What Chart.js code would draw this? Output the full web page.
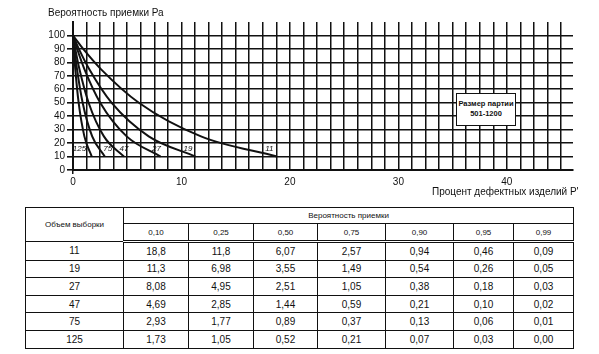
<!DOCTYPE html>
<html>
<head>
<meta charset="utf-8">
<script src="https://cdn.jsdelivr.net/npm/chart.js@4/dist/chart.umd.min.js"></script>
<style>
  body { margin: 0; background: #fff; font-family: "Liberation Sans", Arial, sans-serif; color: #111; }
  #wrap { position: relative; width: 599px; height: 354px; overflow: hidden; }
  #plot { position: absolute; left: 0; top: 0; }
  .ytitle { position: absolute; left: 48px; top: 7px; font-size: 10px; }
  .xtitle { position: absolute; left: 432px; top: 186px; font-size: 10px; }
  .lotbox { position: absolute; left: 456px; top: 93px; width: 60px; height: 33px; border: 1.5px solid #111;
            background: #fff; font-size: 7.5px; font-weight: bold; text-align: center; line-height: 10px;
            padding-top: 5px; box-sizing: border-box; white-space: nowrap; }
  table { position: absolute; left: 25px; top: 207px; width: 548px; border-collapse: collapse; table-layout: fixed; }
  td, th { border: 1.5px solid #111; text-align: center; padding: 0; font-weight: normal; }
  th { font-size: 8px; }
  td { font-size: 10px; height: 16.6px; }
  tr.hd1 th { height: 15px; }
  tr.hd2 th { height: 16px; border-bottom: 3px double #111; }
</style>
</head>
<body>
<div id="wrap">
  <canvas id="plot" width="599" height="200"></canvas>
  <div class="ytitle">Вероятность приемки Ра</div>
  <div class="xtitle">Процент дефектных изделий Р'</div>
  <div class="lotbox">Размер партии<br>501-1200</div>
  <table id="tbl"></table>
</div>
<script>
// вероятность приемки (столбцы таблицы)
const acceptProb = ['0,10', '0,25', '0,50', '0,75', '0,90', '0,95', '0,99'];
const sampleSizes = ['11', '19', '27', '47', '75', '125'];

// процент дефектных изделий для каждого объема выборки
const defects11  = ['18,8', '11,8', '6,07', '2,57', '0,94', '0,46', '0,09'];
const defects19  = ['11,3', '6,98', '3,55', '1,49', '0,54', '0,26', '0,05'];
const defects27  = ['8,08', '4,95', '2,51', '1,05', '0,38', '0,18', '0,03'];
const defects47  = ['4,69', '2,85', '1,44', '0,59', '0,21', '0,10', '0,02'];
const defects75  = ['2,93', '1,77', '0,89', '0,37', '0,13', '0,06', '0,01'];
const defects125 = ['1,73', '1,05', '0,52', '0,21', '0,07', '0,03', '0,00'];
const allDefects = [defects11, defects19, defects27, defects47, defects75, defects125];

// при 0 % дефектных - приемка 100 %
const startDefect = 0;
const startPa = 100;

// подписи кривых (x в процентах, y в процентах приемки)
const curveLabelX = [18.1, 10.6, 7.7, 4.7, 3.2, 0.6];
const curveLabelY = 16;

const xTickLabels = [0, 10, 20, 30, 40];
const yTickLabels = [0, 10, 20, 30, 40, 50, 60, 70, 80, 90, 100];

const num = s => parseFloat(s.replace(',', '.'));

const datasets = allDefects.map((arr, i) => {
    const pts = arr.map((d, j) => ({x: num(d), y: num(acceptProb[j]) * 100}));
    pts.push({x: startDefect, y: startPa});
    pts.sort((a, b) => a.x - b.x);
    return {
        label: sampleSizes[i],
        data: pts,
        showLine: true,
        borderColor: '#111',
        borderWidth: 2,
        pointRadius: 0,
        fill: false,
        cubicInterpolationMode: 'monotone'
    };
});

const curveLabels = {
    id: 'curveLabels',
    afterDatasetsDraw(chart) {
        const ctx = chart.ctx;
        const xs = chart.scales.x, ys = chart.scales.y;
        ctx.save();
        ctx.font = 'italic 8px "Liberation Sans", Arial';
        ctx.fillStyle = '#111';
        ctx.textAlign = 'center';
        ctx.textBaseline = 'middle';
        sampleSizes.forEach((n, i) => {
            ctx.fillText(n, xs.getPixelForValue(curveLabelX[i]), ys.getPixelForValue(curveLabelY));
        });
        ctx.restore();
    }
};

const gridColor = '#111';

new Chart(document.getElementById('plot'), {
    type: 'scatter',
    data: {datasets: datasets},
    options: {
        responsive: false,
        animation: false,
        devicePixelRatio: 1,
        layout: {padding: {top: 22, right: 26, left: 0, bottom: 0}},
        plugins: {legend: {display: false}, tooltip: {enabled: false}},
        scales: {
            x: {
                type: 'linear',
                min: 0,
                max: 46.1,
                afterBuildTicks: scale => {
                    const t = [];
                    for (let v = 0; v <= 45; v += 1.25) t.push({value: v});
                    scale.ticks = t;
                },
                afterFit: scale => { scale.height = 30; },
                ticks: {
                    autoSkip: false,
                    maxRotation: 0,
                    padding: 2,
                    color: '#111',
                    font: {family: '"Liberation Sans", Arial', size: 10},
                    callback: v => xTickLabels.includes(v) ? String(v) : ''
                },
                grid: {
                    color: gridColor,
                    lineWidth: 1.5,
                    tickLength: 4,
                    tickColor: c => c.tick.value === 0 ? gridColor : 'transparent'
                },
                border: {color: gridColor, width: 2}
            },
            y: {
                type: 'linear',
                min: 0,
                max: 110,
                afterBuildTicks: scale => {
                    scale.ticks = yTickLabels.map(v => ({value: v}));
                },
                afterFit: scale => { scale.width = 73; },
                ticks: {
                    autoSkip: false,
                    padding: 2,
                    color: '#111',
                    font: {family: '"Liberation Sans", Arial', size: 10}
                },
                grid: {color: gridColor, lineWidth: 1.6, tickLength: 6, tickColor: gridColor},
                border: {color: gridColor, width: 2}
            }
        }
    },
    plugins: [curveLabels]
});

// таблица
const tbl = document.getElementById('tbl');
const colW = [98, 65, 65, 64, 68, 68, 60, 60];
let html = '<colgroup>' + colW.map(w => '<col style="width:' + w + 'px">').join('') + '</colgroup>';
html += '<tr class="hd1"><th rowspan="2">Объем выборки</th><th colspan="7">Вероятность приемки</th></tr>';
html += '<tr class="hd2">' + acceptProb.map(p => '<th>' + p + '</th>').join('') + '</tr>';
sampleSizes.forEach((n, i) => {
    html += '<tr><td>' + n + '</td>' + allDefects[i].map(d => '<td>' + d + '</td>').join('') + '</tr>';
});
tbl.innerHTML = html;
</script>
</body>
</html>
